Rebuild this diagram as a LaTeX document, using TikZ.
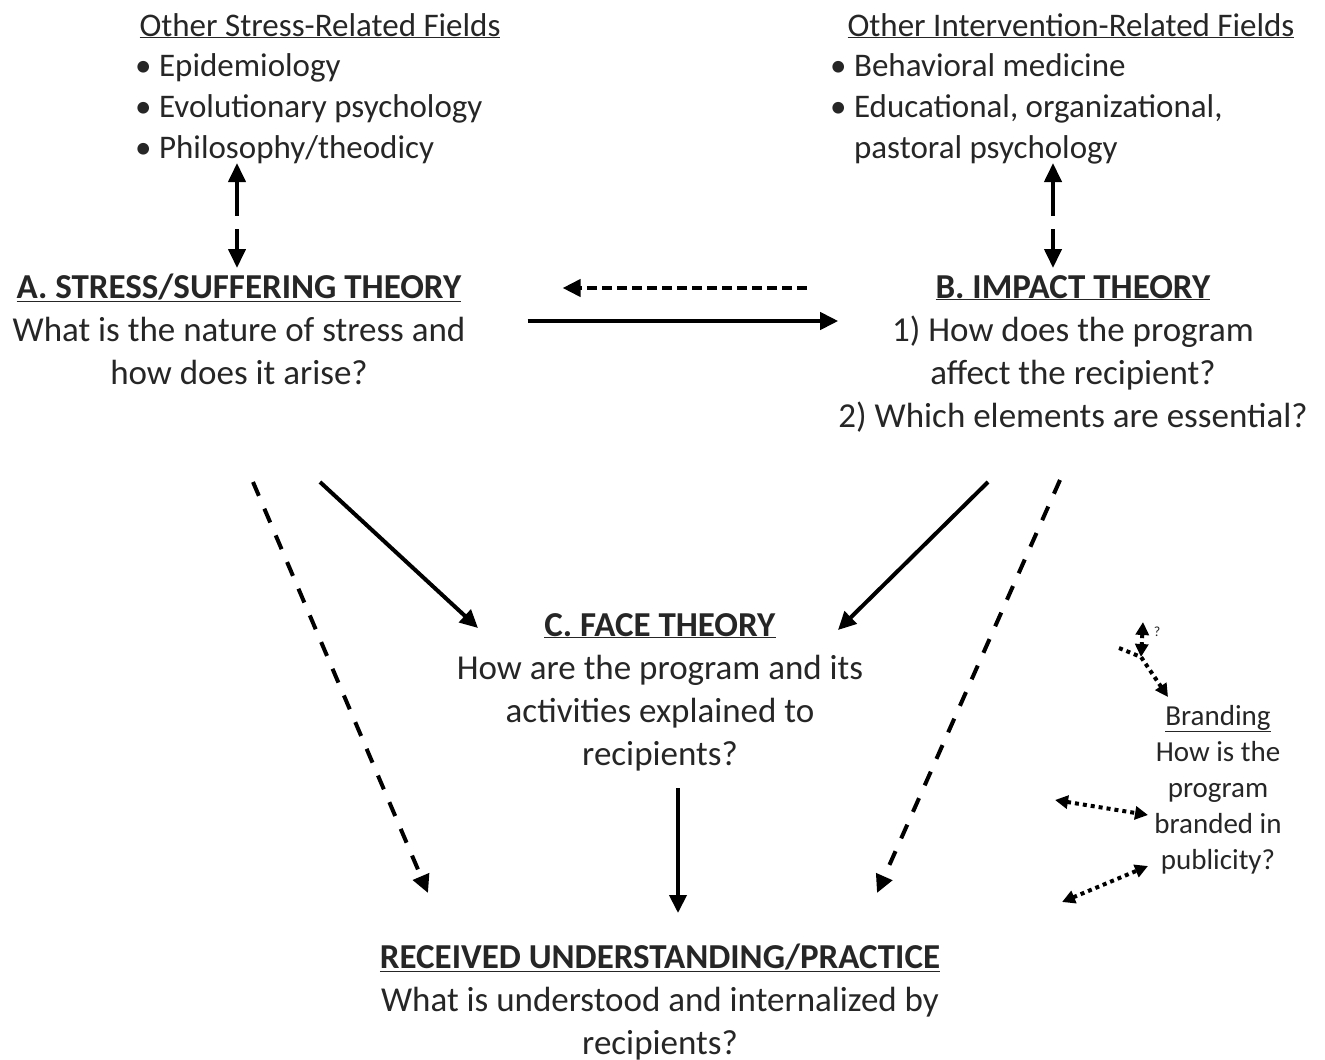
\documentclass[tikz,border=0pt]{standalone}
\usepackage{fontspec}
\setmainfont{Carlito}
\usepackage{xcolor}
\usepackage{tikz}
\usetikzlibrary{arrows.meta}

\definecolor{inkgray}{RGB}{38,38,38}

\begin{document}
\begin{tikzpicture}[
  x=1pt, y=-1pt,
  theorybox/.style={
    inner sep=0pt,
    align=center,
    anchor=base,
    text=inkgray,
    font=\fontsize{35}{43}\selectfont
  },
  fieldtext/.style={
    inner sep=0pt,
    anchor=base,
    text=inkgray,
    font=\fontsize{33}{41}\selectfont
  },
  brandbox/.style={
    inner sep=0pt,
    align=center,
    anchor=base,
    text=inkgray,
    font=\fontsize{29}{36}\selectfont
  },
  flowarrow/.style={
    -{Triangle[length=18pt,width=17pt]},
    line width=4pt,
    draw=black
  },
  dashflow/.style={
    flowarrow,
    dash pattern=on 15pt off 14pt
  },
  backflow/.style={
    flowarrow,
    dash pattern=on 10pt off 5pt
  },
  fieldlink/.style={
    {Triangle[length=19pt,width=17pt]}-{Triangle[length=19pt,width=17pt]},
    line width=4pt,
    draw=black,
    dash pattern=on 35pt off 13pt
  },
  brandlink/.style={
    {Triangle[length=13pt,width=13pt]}-{Triangle[length=13pt,width=13pt]},
    line width=4pt,
    draw=black,
    dash pattern=on 4pt off 4pt
  }
]
\useasboundingbox (0,0) rectangle (1325,1060);

% related fields (multi-line nodes sit on their last baseline)
\node[fieldtext] (titleA) at (320,36) {\underline{Other Stress-Related Fields}};
\node[fieldtext, anchor=base west, align=left] (listA) at (135,158) {
  \textbullet\ Epidemiology\\
  \textbullet\ Evolutionary psychology\\
  \textbullet\ Philosophy/theodicy
};

\node[fieldtext] (titleB) at (1071,36) {\underline{Other Intervention-Related Fields}};
\node[fieldtext, anchor=base west, align=left] (listB) at (830,158) {
  \textbullet\ Behavioral medicine\\
  \textbullet\ Educational, organizational,\\
  \hphantom{\textbullet\ }pastoral psychology
};

% theories
\node[theorybox] (A) at (239,384) {
  \underline{\textbf{A. STRESS/SUFFERING THEORY}}\\
  What is the nature of stress and\\
  how does it arise?
};

\node[theorybox] (B) at (1073,427) {
  \underline{\textbf{B. IMPACT THEORY}}\\
  1) How does the program\\
  affect the recipient?\\
  2) Which elements are essential?
};

\node[theorybox] (C) at (660,765) {
  \underline{\textbf{C. FACE THEORY}}\\
  How are the program and its\\
  activities explained to\\
  recipients?
};

\node[theorybox] (R) at (660,1054) {
  \underline{\textbf{RECEIVED UNDERSTANDING/PRACTICE}}\\
  What is understood and internalized by\\
  recipients?
};

\node[brandbox] (brand) at (1218,869) {
  \underline{Branding}\\
  How is the\\
  program\\
  branded in\\
  publicity?
};

\node[text=inkgray, inner sep=0pt, font=\fontsize{14}{16}\selectfont] (qmark) at (1157,632) {?};

% connectors
\draw[fieldlink] ([shift={(102,5)}]listA.base west) -- ([shift={(-2,-116)}]A.base);
\draw[fieldlink] ([shift={(223,5)}]listB.base west) -- ([shift={(-20,-159)}]B.base);

\draw[backflow, shorten <=31pt, shorten >=97pt] (B.west |- 0,288) -- (A.east |- 0,288);
\draw[flowarrow, shorten <=62pt] (A.east |- 0,321) -- (B.west |- 0,321);

\draw[flowarrow] ([shift={(81,98)}]A.base) -- ([shift={(-182,-137)}]C.base);
\draw[flowarrow] ([shift={(-85,55)}]B.base) -- ([shift={(178,-135)}]C.base);
\draw[dashflow] ([shift={(14,98)}]A.base) -- ([shift={(-232,-161)}]R.base);
\draw[dashflow] ([shift={(-13,53)}]B.base) -- ([shift={(217,-161)}]R.base);
\draw[flowarrow] ([shift={(18,23)}]C.base) -- ([shift={(18,-141)}]R.base);

% branding links
\coordinate (forkin) at (1119,648);
\coordinate (fork) at (1141,657);
\coordinate (qtop) at (1143,622);
\draw[brandlink] (qtop) -- (fork);
\draw[brandlink, -{Triangle[length=13pt,width=13pt]}] (forkin) -- (fork) -- ([shift={(-50,-172)}]brand.base);
\draw[brandlink] ([shift={(-163,-69)}]brand.base) -- ([shift={(-70,-54)}]brand.base);
\draw[brandlink] ([shift={(-156,33)}]brand.base) -- ([shift={(-70,-3)}]brand.base);

\end{tikzpicture}
\end{document}
